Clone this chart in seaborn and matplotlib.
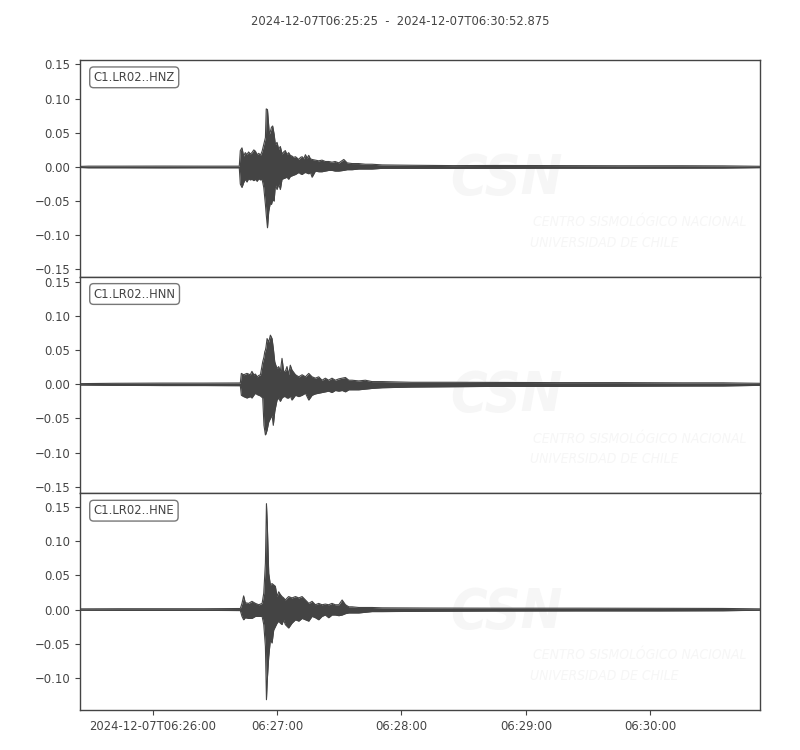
import numpy as np
import pandas as pd
import matplotlib
matplotlib.use("Agg")
import matplotlib.pyplot as plt
import seaborn as sns

start = pd.Timestamp("2024-12-07 06:25:25")
duration = 327.875
title = "2024-12-07T06:25:25  -  2024-12-07T06:30:52.875"
stations = ["C1.LR02..HNZ", "C1.LR02..HNN", "C1.LR02..HNE"]
tick_times = ["06:26:00", "06:27:00", "06:28:00", "06:29:00", "06:30:00"]
tick_labels = ["2024-12-07T06:26:00", "06:27:00", "06:28:00", "06:29:00", "06:30:00"]

# envelopes: seconds after start, max / min of the trace
hnz_t = [0, 4, 20, 40, 60, 76.8,
         77.3, 78.1, 78.9, 79.7, 80.5, 81.3, 82.1, 82.9, 83.8, 84.6,
         85.4, 86.2, 87.0, 87.8, 88.6, 89.4, 89.8, 90.4, 91.0, 91.3,
         91.8, 92.3, 92.9, 93.6, 94.2, 95.0, 95.8, 96.6, 97.4, 98.2,
         99.0, 99.8, 100.6, 101.4, 102.2, 103.0, 103.9, 105.5, 106.3, 107.1,
         107.9, 108.7, 109.5, 110.3, 111.1, 111.9, 113.5, 115.1, 116.7, 118.3,
         120.0, 121.5, 123.0, 124.8, 127.2, 128.8, 131.2, 134.4, 137.6, 140.8,
         145.7, 160, 180, 200, 230, 260, 290, 310, 327.875]
hnz_hi = [0.0008, 0.0012, 0.0012, 0.0013, 0.0012, 0.0012,
          0.024, 0.028, 0.016, 0.021, 0.018, 0.022, 0.019, 0.021, 0.025, 0.023,
          0.018, 0.020, 0.017, 0.023, 0.033, 0.043, 0.085, 0.084, 0.060, 0.048,
          0.052, 0.058, 0.060, 0.048, 0.033, 0.036, 0.026, 0.030, 0.019, 0.022,
          0.024, 0.018, 0.021, 0.017, 0.016, 0.014, 0.015, 0.011, 0.014, 0.015,
          0.012, 0.018, 0.013, 0.017, 0.012, 0.011, 0.010, 0.009, 0.010, 0.008,
          0.008, 0.007, 0.008, 0.006, 0.011, 0.006, 0.005, 0.005, 0.004, 0.004,
          0.003, 0.0025, 0.002, 0.0022, 0.002, 0.0018, 0.0018, 0.0016, 0.0010]
hnz_lo = [-0.0008, -0.0012, -0.0012, -0.0013, -0.0012, -0.0012,
          -0.025, -0.030, -0.023, -0.018, -0.022, -0.017, -0.019, -0.018, -0.020, -0.018,
          -0.021, -0.017, -0.019, -0.018, -0.030, -0.055, -0.070, -0.089, -0.065, -0.060,
          -0.052, -0.055, -0.048, -0.050, -0.026, -0.033, -0.025, -0.033, -0.018, -0.017,
          -0.016, -0.015, -0.018, -0.014, -0.013, -0.012, -0.011, -0.008, -0.010, -0.011,
          -0.009, -0.008, -0.009, -0.010, -0.008, -0.015, -0.006, -0.007, -0.007, -0.006,
          -0.005, -0.005, -0.006, -0.006, -0.005, -0.004, -0.004, -0.003, -0.003, -0.003,
          -0.002, -0.002, -0.002, -0.002, -0.0018, -0.0018, -0.0017, -0.0016, -0.0010]

hnn_t = [0, 16, 40, 60, 77.3,
         77.8, 78.9, 80.5, 82.1, 82.9, 83.8, 84.6, 85.4, 86.2, 87.0,
         88.1, 88.7, 89.1, 89.4, 89.7, 90.2, 91.0, 91.8, 92.6, 93.2,
         93.9, 94.2, 95.0, 95.8, 96.6, 97.4, 98.2, 99.0, 99.8, 100.6,
         101.4, 102.2, 103.9, 105.5, 107.1, 108.7, 110.3, 111.9, 113.5, 115.1,
         116.7, 118.3, 119.9, 121.5, 123.1, 124.8, 126.4, 128.0, 129.6, 131.2,
         134.4, 137.6, 140.8, 145.7, 160, 180, 200, 230, 260, 290,
         310, 327.875]
hnn_hi = [0.0010, 0.0015, 0.0018, 0.0018, 0.0020,
          0.016, 0.014, 0.016, 0.014, 0.019, 0.014, 0.015, 0.011, 0.013, 0.014,
          0.033, 0.040, 0.048, 0.050, 0.055, 0.067, 0.062, 0.072, 0.067, 0.053,
          0.033, 0.030, 0.023, 0.026, 0.019, 0.038, 0.019, 0.019, 0.026, 0.014,
          0.028, 0.021, 0.014, 0.011, 0.014, 0.011, 0.016, 0.011, 0.009, 0.011,
          0.006, 0.009, 0.006, 0.009, 0.006, 0.008, 0.009, 0.010, 0.006, 0.006,
          0.005, 0.006, 0.004, 0.004, 0.003, 0.003, 0.0028, 0.0025, 0.0025, 0.0022,
          0.0022, 0.0015]
hnn_lo = [-0.0010, -0.0015, -0.0018, -0.0018, -0.0020,
          -0.016, -0.018, -0.020, -0.018, -0.020, -0.016, -0.013, -0.015, -0.016, -0.017,
          -0.020, -0.060, -0.068, -0.074, -0.072, -0.067, -0.055, -0.050, -0.045, -0.060,
          -0.040, -0.035, -0.023, -0.020, -0.025, -0.020, -0.018, -0.018, -0.020, -0.020,
          -0.017, -0.023, -0.016, -0.018, -0.016, -0.013, -0.023, -0.016, -0.014, -0.013,
          -0.012, -0.011, -0.010, -0.012, -0.009, -0.010, -0.009, -0.011, -0.008, -0.008,
          -0.008, -0.007, -0.006, -0.005, -0.004, -0.0035, -0.003, -0.003, -0.0028, -0.0025,
          -0.0024, -0.0015]

hne_t = [0, 20, 40, 60, 77.3,
         78.1, 78.9, 79.7, 81.3, 82.9, 84.6, 86.2, 87.8, 88.6, 89.4,
         89.9, 90.3, 91.0, 91.8, 92.6, 93.4, 94.2, 95.0, 95.8, 96.6,
         97.4, 98.2, 99.0, 100.6, 102.2, 103.9, 105.5, 107.1, 108.7, 110.3,
         111.9, 113.5, 115.1, 116.7, 118.3, 119.9, 121.5, 123.1, 124.8, 126.4,
         128.0, 129.6, 131.2, 134.4, 137.6, 140.8, 145.7, 170, 200, 240,
         280, 310, 327.875]
hne_hi = [0.0010, 0.0012, 0.0012, 0.0012, 0.0015,
          0.009, 0.020, 0.010, 0.009, 0.012, 0.009, 0.007, 0.009, 0.024, 0.068,
          0.155, 0.126, 0.053, 0.036, 0.038, 0.036, 0.034, 0.019, 0.026, 0.022,
          0.019, 0.017, 0.014, 0.019, 0.017, 0.019, 0.017, 0.019, 0.014, 0.009,
          0.012, 0.007, 0.009, 0.007, 0.008, 0.007, 0.009, 0.007, 0.007, 0.014,
          0.007, 0.004, 0.004, 0.003, 0.003, 0.003, 0.0025, 0.0022, 0.002, 0.002,
          0.0018, 0.0016, 0.0010]
hne_lo = [-0.0010, -0.0012, -0.0012, -0.0012, -0.0015,
          -0.010, -0.015, -0.012, -0.013, -0.013, -0.010, -0.010, -0.010, -0.022, -0.054,
          -0.132, -0.103, -0.069, -0.044, -0.049, -0.030, -0.025, -0.020, -0.017, -0.020,
          -0.022, -0.015, -0.022, -0.027, -0.020, -0.015, -0.017, -0.013, -0.015, -0.017,
          -0.010, -0.012, -0.015, -0.010, -0.008, -0.012, -0.008, -0.008, -0.009, -0.008,
          -0.006, -0.005, -0.005, -0.005, -0.004, -0.003, -0.003, -0.0025, -0.0022, -0.002,
          -0.002, -0.0018, -0.0010]

times = [hnz_t, hnn_t, hne_t]
highs = [hnz_hi, hnn_hi, hne_hi]
lows = [hnz_lo, hnn_lo, hne_lo]

sns.set_style("ticks")
plt.rcParams["font.family"] = ["DejaVu Sans"]
plt.rcParams["font.stretch"] = "condensed"
plt.rcParams["font.size"] = 9.3
grey = "#444444"
trace_c = "#444444"
wm = "#f6f6f6"
plt.rcParams.update({"text.color": grey, "axes.labelcolor": grey,
                     "xtick.color": grey, "ytick.color": grey,
                     "xtick.labelsize": 9.3, "ytick.labelsize": 9.3,
                     "axes.edgecolor": grey, "axes.linewidth": 1.0})

fig, axes = plt.subplots(3, 1, figsize=(8, 7.5), dpi=100, sharex=True)
fig.subplots_adjust(left=0.1, right=0.95, top=0.92, bottom=0.0533, hspace=0)

# same vertical range in every panel, centred on each trace
half = max((max(h) - min(l)) / 2 for h, l in zip(highs, lows)) * 1.105

for i, (ax, name, t, hi, lo) in enumerate(zip(axes, stations, times, highs, lows)):
    x = start + pd.to_timedelta(np.array(t), unit="s")
    # faint watermark
    ax.text(0.627, 0.45, "CSN", transform=ax.transAxes, ha="center", va="center",
            fontsize=40, fontweight="bold", fontstyle="italic", color=wm, zorder=1)
    ax.text(0.666, 0.253, "CENTRO SISMOLÓGICO NACIONAL", transform=ax.transAxes,
            ha="left", va="center", fontsize=10, fontstyle="italic", color=wm, zorder=1)
    ax.text(0.662, 0.157, "UNIVERSIDAD DE CHILE", transform=ax.transAxes,
            ha="left", va="center", fontsize=10, fontstyle="italic", color=wm, zorder=1)

    ax.fill_between(x, lo, hi, color=trace_c, lw=0, zorder=3)
    sns.lineplot(x=x, y=hi, ax=ax, color=trace_c, lw=0.8, sort=False, estimator=None, zorder=3)
    sns.lineplot(x=x, y=lo, ax=ax, color=trace_c, lw=0.8, sort=False, estimator=None, zorder=3)

    mid = (max(hi) + min(lo)) / 2
    ax.set_ylim(mid - half, mid + half)
    ax.yaxis.set_major_locator(plt.MultipleLocator(0.05))
    ax.text(0.02, 0.95, name, transform=ax.transAxes, ha="left", va="top", fontsize=9.3,
            bbox=dict(boxstyle="round,pad=0.3", fc="white", ec="#777777", lw=1.0), zorder=5)
    ax.set_xlabel("")
    ax.set_ylabel("")
    if i < 2:
        ax.tick_params(axis="x", bottom=False, labelbottom=False)

axes[-1].set_xlim(start, start + pd.Timedelta(seconds=duration))
axes[-1].set_xticks(pd.to_datetime(["2024-12-07 " + s for s in tick_times]))
axes[-1].set_xticklabels(tick_labels)

fig.suptitle(title, y=0.98, fontsize=9.3, color=grey)
fig.savefig("out.png", dpi=100)
